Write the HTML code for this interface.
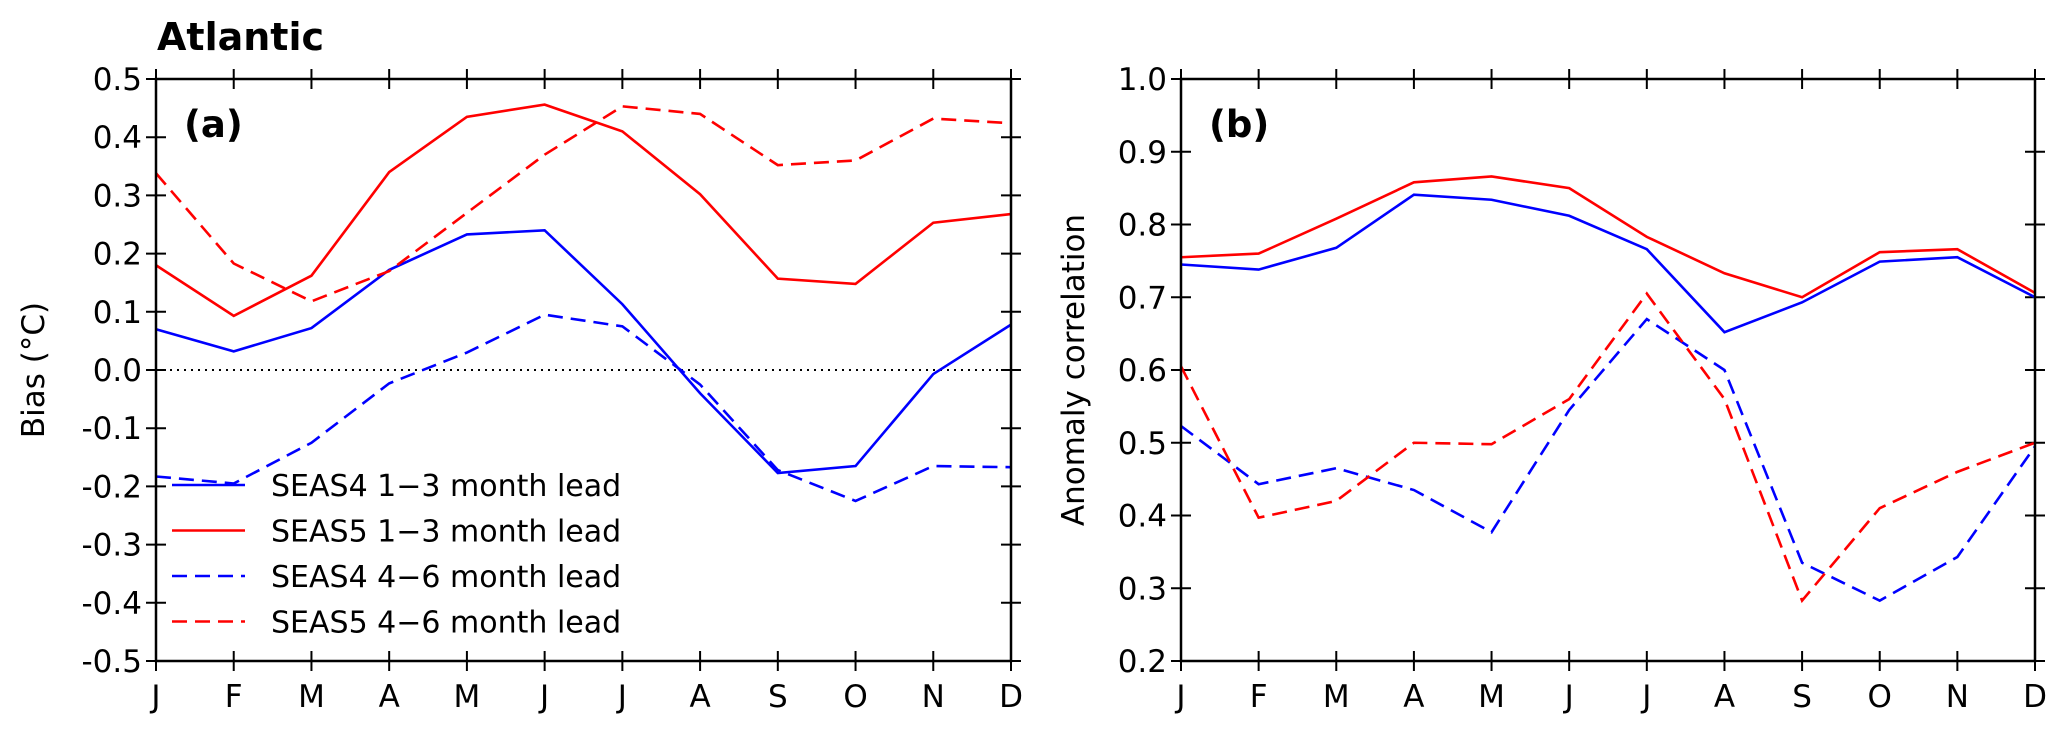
<!DOCTYPE html>
<html><head><meta charset="utf-8"><style>
body{margin:0;background:#fff}
svg text{font-family:"DejaVu Sans","Liberation Sans",sans-serif}
</style></head><body>
<svg id="c" width="2067" height="737" xmlns="http://www.w3.org/2000/svg">
<text x="157" y="50" font-size="38" font-weight="bold">Atlantic</text>
</svg>
<script>
const months=["J","F","M","A","M","J","J","A","S","O","N","D"];
const biasTicks=["-0.5","-0.4","-0.3","-0.2","-0.1","0.0","0.1","0.2","0.3","0.4","0.5"];
const corrTicks=["0.2","0.3","0.4","0.5","0.6","0.7","0.8","0.9","1.0"];
const biasS5L1=[0.18,0.093,0.162,0.34,0.435,0.456,0.41,0.302,0.157,0.148,0.253,0.268];
const biasS4L1=[0.07,0.032,0.072,0.172,0.233,0.24,0.113,-0.04,-0.177,-0.165,-0.007,0.078];
const biasS4L4=[-0.183,-0.195,-0.125,-0.023,0.03,0.095,0.075,-0.025,-0.172,-0.225,-0.165,-0.167];
const biasS5L4=[0.338,0.183,0.118,0.17,0.27,0.37,0.453,0.44,0.352,0.36,0.432,0.424];
const corrS5L1=[0.755,0.76,0.808,0.858,0.866,0.85,0.783,0.733,0.7,0.762,0.766,0.706];
const corrS4L1=[0.745,0.738,0.768,0.841,0.834,0.812,0.766,0.652,0.693,0.749,0.755,0.7];
const corrS4L4=[0.523,0.443,0.465,0.435,0.377,0.545,0.67,0.6,0.335,0.283,0.343,0.495];
const corrS5L4=[0.605,0.397,0.42,0.5,0.498,0.56,0.705,0.56,0.283,0.41,0.46,0.5];
const legendLabels=["SEAS4 1\u22123 month lead","SEAS5 1\u22123 month lead","SEAS4 4\u22126 month lead","SEAS5 4\u22126 month lead"];
const NS="http://www.w3.org/2000/svg";
const svg=document.getElementById('c');
function mk(t,a,p){const e=document.createElementNS(NS,t);for(const k in a)e.setAttribute(k,a[k]);(p||svg).appendChild(e);return e;}
const T=79,B=661;
function panel(id,L,R,ymin,ymax,ticks,ylabel,ylx,letter,series){
  const g=mk('g',{});
  
  
  const x=i=>L+i*(R-L)/11, y=v=>B-(v-ymin)/(ymax-ymin)*(B-T);
  const nt=ticks.length;
  ticks.forEach((t,i)=>{const v=ymin+i*(ymax-ymin)/(nt-1),yy=y(v);
    mk('line',{x1:L-10,x2:L+10,y1:yy,y2:yy,stroke:'#000','stroke-width':2},g);
    mk('line',{x1:R-10,x2:R+10,y1:yy,y2:yy,stroke:'#000','stroke-width':2},g);
    const tx=mk('text',{x:L-14,y:yy+11,'font-size':31,'text-anchor':'end'},g);tx.textContent=t;
    
    });
  months.forEach((m,i)=>{const xx=x(i);
    mk('line',{x1:xx,x2:xx,y1:B-10,y2:B+10,stroke:'#000','stroke-width':2},g);
    mk('line',{x1:xx,x2:xx,y1:T-10,y2:T+10,stroke:'#000','stroke-width':2},g);
    const tx=mk('text',{x:xx,y:B+46,'font-size':31,'text-anchor':'middle'},g);tx.textContent=m;
    
    });
  if(ymin<0){const l=mk('line',{x1:L,x2:R,y1:y(0),y2:y(0),stroke:'#000','stroke-width':2,'stroke-dasharray':'2,5'},g);
    
    }
  series.forEach(s=>{const p=mk('polyline',{points:s.d.map((v,i)=>x(i)+','+y(v)).join(' '),fill:'none',stroke:s.c,'stroke-width':2.6,'stroke-dasharray':s.dash?'15,8':'none'},g);
    
    });
  const fr=mk('rect',{x:L,y:T,width:R-L,height:B-T,fill:'none',stroke:'#000','stroke-width':2.5},g);
  
  
  const yl=mk('text',{x:ylx,y:(T+B)/2,'font-size':31,'text-anchor':'middle',transform:`rotate(-90 ${ylx} ${(T+B)/2})`},g);yl.textContent=ylabel;
  
  
  const lt=mk('text',{x:L+28,y:137,'font-size':37,'font-weight':'bold'},g);lt.textContent=letter;
  
  
}
panel('panel-a-bias',156,1011,-0.5,0.5,biasTicks,'Bias (\u00B0C)',44,'(a)',[
 {d:biasS5L1,c:'#f00',dash:false,n:'seas5-lead1-3-bias'},{d:biasS4L1,c:'#00f',dash:false,n:'seas4-lead1-3-bias'},
 {d:biasS4L4,c:'#00f',dash:true,n:'seas4-lead4-6-bias'},{d:biasS5L4,c:'#f00',dash:true,n:'seas5-lead4-6-bias'}]);
panel('panel-b-correlation',1181,2035,0.2,1.0,corrTicks,'Anomaly correlation',1084,'(b)',[
 {d:corrS5L1,c:'#f00',dash:false,n:'seas5-lead1-3-corr'},{d:corrS4L1,c:'#00f',dash:false,n:'seas4-lead1-3-corr'},
 {d:corrS4L4,c:'#00f',dash:true,n:'seas4-lead4-6-corr'},{d:corrS5L4,c:'#f00',dash:true,n:'seas5-lead4-6-corr'}]);
const lg=mk('g',{});


const lc=['#00f','#f00','#00f','#f00'],ld=[false,false,true,true];
legendLabels.forEach((t,i)=>{const yy=485+i*45.5;
  const ln=mk('line',{x1:172,x2:245,y1:yy,y2:yy,stroke:lc[i],'stroke-width':2.6,'stroke-dasharray':ld[i]?'15,8':'none'},lg);
  
  
  const tx=mk('text',{x:271,y:yy+11,'font-size':30},lg);tx.textContent=t;
  
  });
</script>
</body></html>
